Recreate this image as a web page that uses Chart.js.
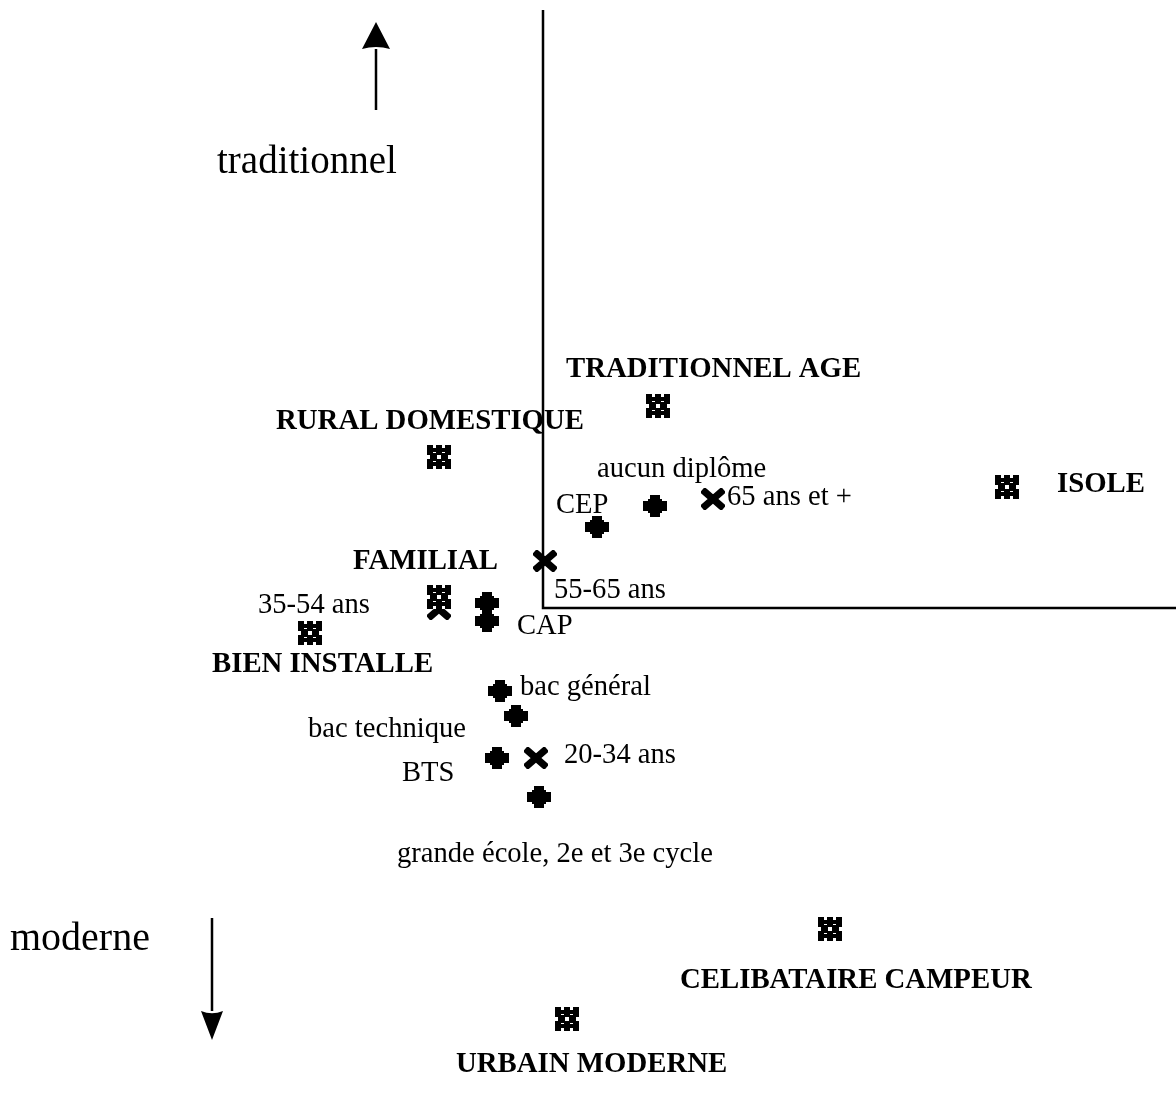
<!DOCTYPE html>
<html>
<head>
<meta charset="utf-8">
<script src="https://cdn.jsdelivr.net/npm/chart.js@4.4.1/dist/chart.umd.min.js"></script>
<style>
html,body{margin:0;padding:0;background:#fff;}
#wrap{position:relative;width:1176px;height:1108px;}
</style>
</head>
<body>
<div id="wrap"><canvas id="c"></canvas></div>
<script>
// ---- DATA (factorial map coordinates) ----
const clusterNames = ['TRADITIONNEL AGE','RURAL DOMESTIQUE','ISOLE','FAMILIAL','BIEN INSTALLE','CELIBATAIRE CAMPEUR','URBAIN MODERNE'];
const clusterX = [1.15, -1.04, 4.64, -1.04, -2.33, 2.87, 0.24];
const clusterY = [2.02, 1.51, 1.21, 0.11, -0.25, -3.21, -4.11];

const ageNames = ['65 ans et +','55-65 ans','35-54 ans','20-34 ans'];
const ageX = [1.70, 0.02, -1.04, -0.07];
const ageY = [1.09, 0.47, -0.01, -1.50];

const diplomaNames = ['aucun diplôme','CEP','CAP','','bac général','bac technique','BTS','grande école, 2e et 3e cycle'];
const diplomaX = [1.12, 0.54, -0.56, -0.56, -0.43, -0.27, -0.46, -0.04];
const diplomaY = [1.02, 0.81, 0.05, -0.13, -0.83, -1.08, -1.50, -1.89];

const axisTop = 5.98;      // end of the vertical axis
const axisRight = 6.33;    // end of the horizontal axis
const axisTitles = ['traditionnel','moderne'];

// ---- marker images ----
function makeCluster(){
  const c=document.createElement('canvas');c.width=24;c.height=24;
  const g=c.getContext('2d');g.fillStyle='#000';g.fillRect(0,0,24,24);
  g.fillStyle='#fff';
  [[6,0],[15,0],[6,21],[15,21]].forEach(p=>g.fillRect(p[0],p[1],3,3));
  g.fillRect(0,10,3,4);g.fillRect(21,10,3,4);
  g.fillRect(10,10,4,4);
  g.fillRect(6,7,3,1);g.fillRect(15,7,3,1);g.fillRect(6,16,3,1);g.fillRect(15,16,3,1);
  return c;
}
function makePlus(){
  const c=document.createElement('canvas');c.width=24;c.height=22;
  const g=c.getContext('2d');g.fillStyle='#000';
  g.fillRect(7,0,10,22);g.fillRect(0,6,24,10);
  g.fillRect(5,4,14,2);g.fillRect(5,16,14,2);
  return c;
}
function makeX(){
  const c=document.createElement('canvas');c.width=24;c.height=22;
  const g=c.getContext('2d');g.strokeStyle='#000';g.lineWidth=7;g.lineCap='square';
  g.beginPath();g.moveTo(4,4);g.lineTo(20,18);g.moveTo(20,4);g.lineTo(4,18);g.stroke();
  return c;
}
const imgCluster=makeCluster(), imgPlus=makePlus(), imgX=makeX();

function pts(xs,ys){return xs.map((x,i)=>({x:x,y:ys[i]}));}

// label offsets in pixels relative to each point (left x, baseline)
const labelOffsets = {
  clusters:[[-92,-29],[-163,-28],[50,5],[-86,-28],[-98,39],[-150,59],[-111,53]],
  ages:[[14,6],[9,37],[-181,4],[28,5]],
  diplomas:[[-58,-29],[-41,-14],[30,31],[0,0],[20,4],[-208,21],[-95,23],[-142,65]]
};

const labelPlugin={
  id:'labels',
  afterDatasetsDraw(chart){
    const ctx=chart.ctx, xs=chart.scales.x, ys=chart.scales.y;
    ctx.save();
    ctx.fillStyle='#000';ctx.textBaseline='alphabetic';ctx.textAlign='left';
    const groups=[['clusters',clusterNames,clusterX,clusterY,'bold 28.8px "Liberation Serif"'],
                  ['ages',ageNames,ageX,ageY,'28.6px "Liberation Serif"'],
                  ['diplomas',diplomaNames,diplomaX,diplomaY,'28.6px "Liberation Serif"']];
    groups.forEach(g=>{
      ctx.font=g[4];
      g[1].forEach((name,i)=>{
        if(!name) return;
        const px=xs.getPixelForValue(g[2][i]), py=ys.getPixelForValue(g[3][i]);
        const o=labelOffsets[g[0]][i];
        ctx.fillText(name,px+o[0],py+o[1]);
      });
    });
    // axis direction arrows and titles
    function arrow(x,y0,y1,hw,hl){
      const X=xs.getPixelForValue(x), Y0=ys.getPixelForValue(y0), Y1=ys.getPixelForValue(y1);
      const dir=Y1<Y0?-1:1;
      ctx.strokeStyle='#000';ctx.lineWidth=2.5;
      ctx.beginPath();ctx.moveTo(X,Y0);ctx.lineTo(X,Y1-dir*hl);ctx.stroke();
      ctx.beginPath();ctx.moveTo(X,Y1);ctx.lineTo(X-hw,Y1-dir*hl);
      ctx.quadraticCurveTo(X,Y1-dir*hl*0.85,X+hw,Y1-dir*hl);ctx.closePath();ctx.fill();
    }
    arrow(-1.67,4.98,5.86,14,27);
    arrow(-3.31,-3.10,-4.32,11,29);
    ctx.font='39px "Liberation Serif"';
    ctx.fillText(axisTitles[0],xs.getPixelForValue(-3.26),ys.getPixelForValue(4.35));
    ctx.font='40px "Liberation Serif"';
    ctx.fillText(axisTitles[1],xs.getPixelForValue(-5.33),ys.getPixelForValue(-3.42));
    ctx.restore();
  }
};

new Chart(document.getElementById('c'),{
  type:'scatter',
  data:{datasets:[
    {data:[{x:0,y:axisTop},{x:0,y:0},{x:axisRight,y:0}],showLine:true,borderColor:'#000',borderWidth:2.5,pointRadius:0,fill:false,tension:0},
    {data:pts(clusterX,clusterY),pointStyle:imgCluster,pointRadius:12},
    {data:pts(ageX,ageY),pointStyle:imgX,pointRadius:12},
    {data:pts(diplomaX,diplomaY),pointStyle:imgPlus,pointRadius:12}
  ]},
  options:{
    responsive:true,maintainAspectRatio:false,animation:false,
    layout:{padding:0,autoPadding:false},
    plugins:{legend:{display:false},tooltip:{enabled:false}},
    scales:{
      x:{type:'linear',min:-5.43,max:6.33,display:false},
      y:{type:'linear',min:-5.00,max:6.08,display:false}
    }
  },
  plugins:[labelPlugin]
});
</script>
</body>
</html>
